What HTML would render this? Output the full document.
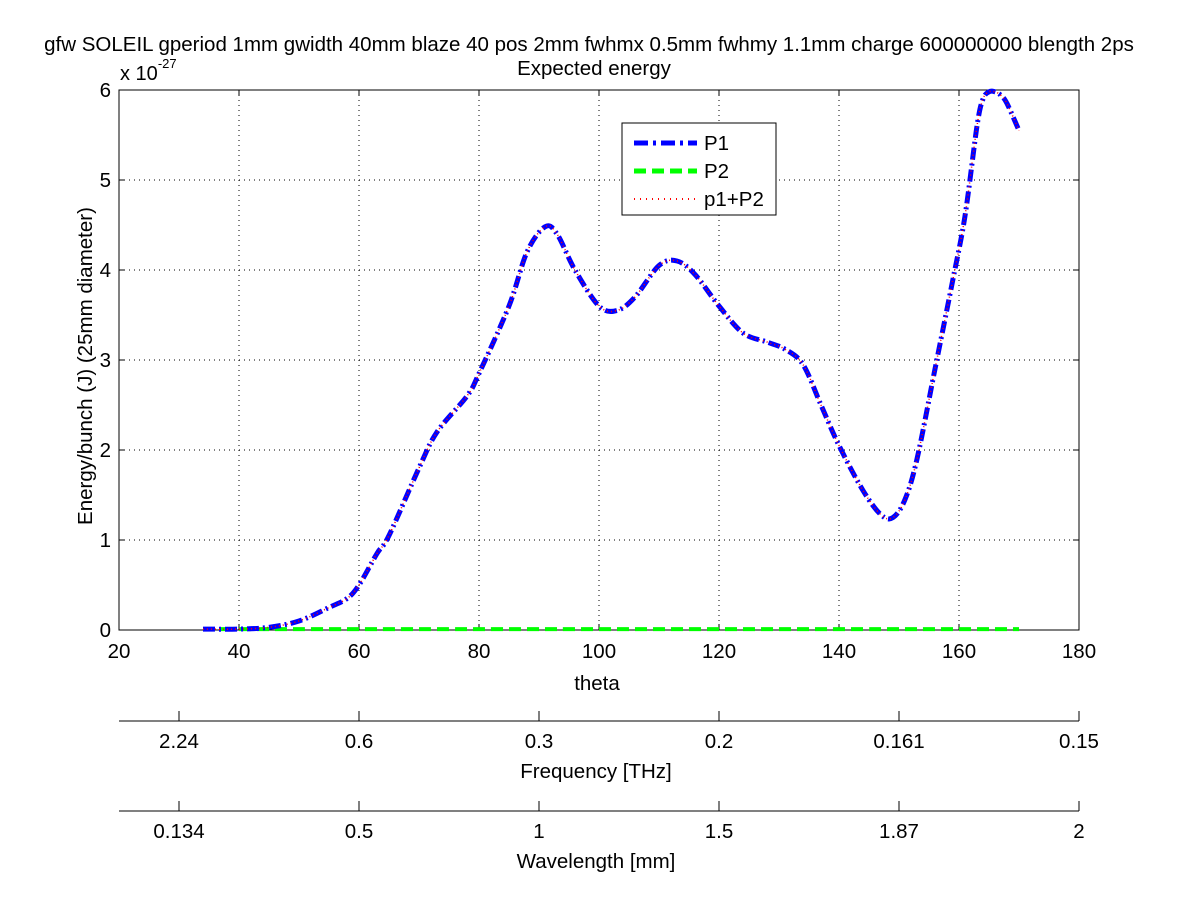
<!DOCTYPE html>
<html><head><meta charset="utf-8"><style>
body{margin:0;background:#fff}
svg{display:block;font-family:"Liberation Sans",sans-serif}
</style></head><body>
<svg id="chart" width="1200" height="901" viewBox="0 0 1200 901" xmlns="http://www.w3.org/2000/svg">
<rect width="1200" height="901" fill="#fff"/>
<text x="589" y="51" font-size="20.5" text-anchor="middle">gfw SOLEIL gperiod 1mm gwidth 40mm blaze 40 pos 2mm fwhmx 0.5mm fwhmy 1.1mm charge 600000000 blength 2ps</text>
<text x="594" y="75" font-size="20.5" text-anchor="middle">Expected energy</text>
<text x="120" y="80" font-size="20">x 10<tspan font-size="13" dy="-12">-27</tspan></text>
<text transform="translate(92,366) rotate(-90)" font-size="20.5" text-anchor="middle">Energy/bunch (J) (25mm diameter)</text>
<text x="597" y="690" font-size="20.5" text-anchor="middle">theta</text>
<text x="596" y="778" font-size="20.5" text-anchor="middle">Frequency [THz]</text>
<text x="596" y="868" font-size="20.5" text-anchor="middle">Wavelength [mm]</text>
<g id="grid"></g>
<g id="axes"></g>
<g id="series"></g>
<g id="legend"></g>
</svg>
<script>
const thetaVals=[34,40,45,50,55,58,60,63,65,70,73,78,80,85,88,91,93,96,100,103,106,110,113,116,120,124,128,131,134,137,140,144,147,149,151,153,156,159,161,163,164,165,166,167,168,170];
const p1Vals=[0.01,0.01,0.03,0.1,0.25,0.35,0.5,0.85,1.05,1.8,2.2,2.6,2.85,3.6,4.2,4.48,4.4,4.0,3.6,3.55,3.7,4.05,4.1,3.95,3.6,3.3,3.2,3.12,2.95,2.5,2.05,1.55,1.28,1.25,1.45,1.9,2.9,3.9,4.6,5.6,5.9,5.98,5.98,5.94,5.85,5.55];
const p2Vals=thetaVals.map(()=>0.01);
const xTicks=[20,40,60,80,100,120,140,160,180];
const yTicks=[0,1,2,3,4,5,6];
const freqTickTheta=[30,60,90,120,150,180];
const freqLabels=["2.24","0.6","0.3","0.2","0.161","0.15"];
const waveLabels=["0.134","0.5","1","1.5","1.87","2"];
const NS="http://www.w3.org/2000/svg";
const L=119,R=1079,T=90,B=630;
const xs=v=>L+(v-20)/160*(R-L);
const ys=v=>B-v/6*(B-T);
function mk(tag,attrs,parent){const e=document.createElementNS(NS,tag);for(const k in attrs)e.setAttribute(k,attrs[k]);parent.appendChild(e);return e;}
const grid=document.getElementById('grid'),axes=document.getElementById('axes'),series=document.getElementById('series'),legend=document.getElementById('legend');
xTicks.forEach(t=>{const x=xs(t);
 if(t>20&&t<180){const g=mk('line',{x1:x,x2:x,y1:T,y2:B,stroke:'#000','stroke-width':1,'stroke-dasharray':'1,4'},grid);
 
 }
 const tk=mk('path',{d:`M${x},${B}v-6M${x},${T}v6`,stroke:'#000'},axes);
 
 
 const lb=mk('text',{x:x,y:B+28,'font-size':20.5,'text-anchor':'middle'},axes);lb.textContent=t;
 
 });
yTicks.forEach(t=>{const y=ys(t);
 if(t>0&&t<6){const g=mk('line',{x1:L,x2:R,y1:y,y2:y,stroke:'#000','stroke-width':1,'stroke-dasharray':'1,4'},grid);
 
 }
 const tk=mk('path',{d:`M${L},${y}h6M${R},${y}h-6`,stroke:'#000'},axes);
 
 
 const lb=mk('text',{x:L-8,y:y+7,'font-size':20.5,'text-anchor':'end'},axes);lb.textContent=t;
 
 });
const box=mk('rect',{x:L,y:T,width:R-L,height:B-T,fill:'none',stroke:'#000'},axes);


[[721,freqLabels,'frequency'],[811,waveLabels,'wavelength']].forEach(([ay,labels,nm])=>{
 const ln=mk('line',{x1:L,x2:R,y1:ay,y2:ay,stroke:'#000'},axes);
 
 
 freqTickTheta.forEach((t,i)=>{const x=xs(t);
  const tk=mk('line',{x1:x,x2:x,y1:ay,y2:ay-10,stroke:'#000'},axes);
  
  
  const lb=mk('text',{x:x,y:ay+27,'font-size':20.5,'text-anchor':'middle'},axes);lb.textContent=labels[i];
  
  });});
function smooth(xv,yv){const p=xv.map((x,i)=>[xs(x),ys(yv[i])]);let d=`M${p[0][0]},${p[0][1]}`;
 for(let i=0;i<p.length-1;i++){const p0=p[i-1]||p[i],p1=p[i],p2=p[i+1],p3=p[i+2]||p2;
  d+=`C${p1[0]+(p2[0]-p0[0])/6},${p1[1]+(p2[1]-p0[1])/6} ${p2[0]-(p3[0]-p1[0])/6},${p2[1]-(p3[1]-p1[1])/6} ${p2[0]},${p2[1]}`;}return d;}
const s2=mk('path',{d:smooth(thetaVals,p2Vals),fill:'none',stroke:'#00ff00','stroke-width':4,'stroke-dasharray':'12,6'},series);


const s1=mk('path',{d:smooth(thetaVals,p1Vals),fill:'none',stroke:'#0000ff','stroke-width':5,'stroke-dasharray':'12,4,2,4'},series);


const s3=mk('path',{d:smooth(thetaVals,p1Vals),fill:'none',stroke:'#ff0000','stroke-width':1.5,'stroke-dasharray':'1,3'},series);


const lbx=mk('rect',{x:622,y:123,width:154,height:92,fill:'#fff',stroke:'#000'},legend);


[['P1','#0000ff',5,'14,5,3,5'],['P2','#00ff00',5,'12,6'],['p1+P2','#ff0000',2,'1,5']].forEach(([n,c,w,da],i)=>{const y=143+i*28;
 const ln=mk('line',{x1:634,x2:697,y1:y,y2:y,stroke:c,'stroke-width':w,'stroke-dasharray':da},legend);
 
 
 const t=mk('text',{x:704,y:y+7,'font-size':20.5},legend);t.textContent=n;
 
 });
</script>
</body></html>
